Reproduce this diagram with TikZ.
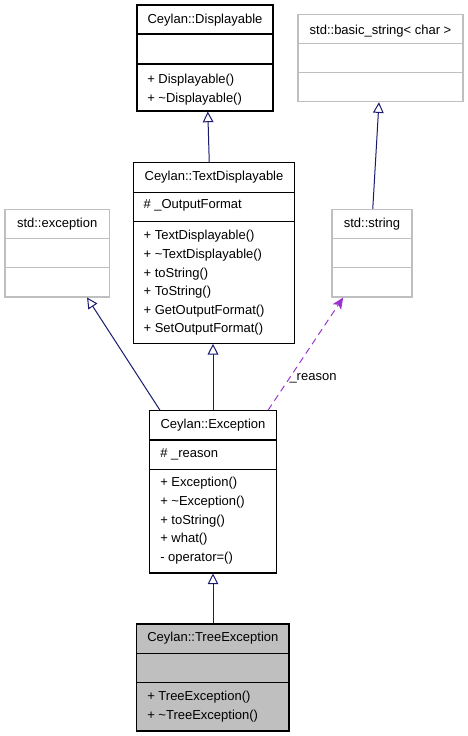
\documentclass[tikz,border=0pt]{standalone}
\usepackage{fontspec}
\setmainfont{Liberation Sans}
\usetikzlibrary{positioning,fit,arrows.meta}
\definecolor{navy}{HTML}{191970}
\definecolor{orchid}{HTML}{9A32CD}
\definecolor{boxgrey}{HTML}{BFBFBF}

\begin{document}
\begin{tikzpicture}[x=0.75pt,y=-0.75pt,
  box/.style={draw=black,line width=0.8pt,inner sep=0pt},
  greybox/.style={draw=boxgrey,line width=0.8pt,inner sep=0pt},
  label/.style={inner sep=0pt,font=\fontsize{9.75}{12}\selectfont,text height=7pt,text depth=2pt,yshift=-1.1pt},
  member/.style={label,anchor=west},
  inherit/.style={draw=navy,line width=0.75pt,-{Triangle[open,length=8pt,width=8pt]}},
  usage/.style={draw=orchid,line width=0.75pt,dash pattern=on 5pt off 3.5pt,-{Stealth[length=8.5pt,width=7.5pt,inset=2pt]}}]
\useasboundingbox (0,0) rectangle (468,736);

\def\dy{18.6}

\node[box, fit={(137,5) (273,111)}] (disp) {};
\draw[line width=0.8pt] (disp.west |- 0,34) -- (disp.east |- 0,34);
\draw[line width=0.8pt] (disp.west |- 0,64) -- (disp.east |- 0,64);
\node[label] (dispT) at (disp.center |- 0,19) {Ceylan::Displayable};
\node[member] (dispM1) at (147,78.5) {+ Displayable()};
\node[member] (dispM2) at (147,97.5) {+ \textasciitilde Displayable()};

\node[greybox, fit={(298,14.3) (463,101.7)}] (bstr) {};
\draw[greybox] (bstr.west |- 0,43.3) -- (bstr.east |- 0,43.3);
\draw[greybox] (bstr.west |- 0,72.7) -- (bstr.east |- 0,72.7);
\node[label] (bstrT) at (bstr.center |- 0,29.3) {std::basic\_string< char >};

\node[box, fit={(133.3,162.7) (294.7,343.3)}] (tdisp) {};
\draw[line width=0.8pt] (tdisp.west |- 0,192.3) -- (tdisp.east |- 0,192.3);
\draw[line width=0.8pt] (tdisp.west |- 0,221.3) -- (tdisp.east |- 0,221.3);
\node[label] (tdispT) at (tdisp.center |- 0,175.7) {Ceylan::TextDisplayable};
\node[member] (tdispA) at (143.3,204) {\# \_OutputFormat};
\node[member] (tdispM1) at (143.3,235) {+ TextDisplayable()};
\node[member] (tdispM2) at (143.3,235+\dy) {+ \textasciitilde TextDisplayable()};
\node[member] (tdispM3) at (143.3,235+2*\dy) {+ toString()};
\node[member] (tdispM4) at (143.3,235+3*\dy) {+ ToString()};
\node[member] (tdispM5) at (143.3,235+4*\dy) {+ GetOutputFormat()};
\node[member] (tdispM6) at (143.3,235+5*\dy) {+ SetOutputFormat()};

\node[greybox, fit={(5,209.3) (109.3,297)}] (sexc) {};
\draw[greybox] (sexc.west |- 0,238.7) -- (sexc.east |- 0,238.7);
\draw[greybox] (sexc.west |- 0,267.7) -- (sexc.east |- 0,267.7);
\node[label] (sexcT) at (sexc.center |- 0,222.7) {std::exception};

\node[greybox, fit={(332,209.3) (412,297)}] (str) {};
\draw[greybox] (str.west |- 0,238.7) -- (str.east |- 0,238.7);
\draw[greybox] (str.west |- 0,267.7) -- (str.east |- 0,267.7);
\node[label] (strT) at (str.center |- 0,222.7) {std::string};

\node[box, fit={(149.3,410.7) (276.7,573)}] (exc) {};
\draw[line width=0.8pt] (exc.west |- 0,440) -- (exc.east |- 0,440);
\draw[line width=0.8pt] (exc.west |- 0,469.7) -- (exc.east |- 0,469.7);
\node[label] (excT) at (exc.center |- 0,424) {Ceylan::Exception};
\node[member] (excA) at (160,452.7) {\# \_reason};
\node[member] (excM1) at (160,482) {+ Exception()};
\node[member] (excM2) at (160,482+\dy) {+ \textasciitilde Exception()};
\node[member] (excM3) at (160,482+2*\dy) {+ toString()};
\node[member] (excM4) at (160,482+3*\dy) {+ what()};
\node[member] (excM5) at (160,482+4*\dy) {- operator=()};

\node[box, fill=boxgrey, fit={(136.7,624) (289,731)}] (tree) {};
\draw[line width=0.8pt] (tree.west |- 0,653.3) -- (tree.east |- 0,653.3);
\draw[line width=0.8pt] (tree.west |- 0,682.7) -- (tree.east |- 0,682.7);
\node[label] (treeT) at (tree.center |- 0,636.7) {Ceylan::TreeException};
\node[member] (treeM1) at (147,695.3) {+ TreeException()};
\node[member] (treeM2) at (147,714.3) {+ \textasciitilde TreeException()};

\draw[inherit] (tdisp.93) -- (disp.273);
\draw[inherit] (str.89) -- (bstr.268);
\draw[inherit] (exc.123.5) -- (sexc.304);
\draw[inherit] (exc.north) -- (tdisp.south -| exc.north);
\draw[usage] (exc.56) -- (str.237);
\node[label] (reason) at (313,376) {\_reason};
\draw[inherit] (tree.north -| exc.south) -- (exc.south);

\end{tikzpicture}
\end{document}
